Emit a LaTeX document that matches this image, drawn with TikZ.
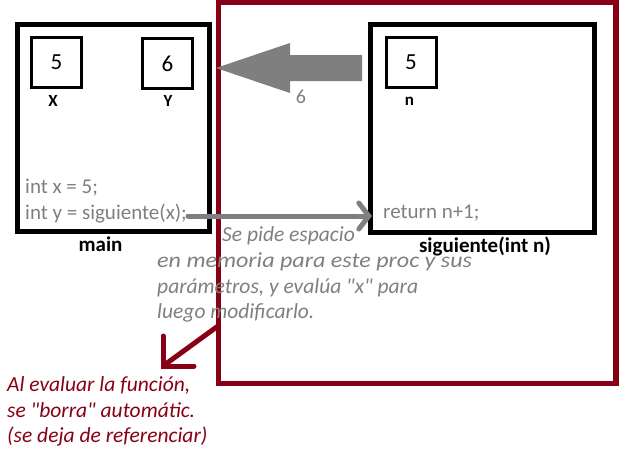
\documentclass[tikz,border=0pt]{standalone}
\usepackage{fontspec}
\setmainfont{Carlito}[Ligatures=TeXOff]
\usetikzlibrary{arrows.meta}
\definecolor{dred}{RGB}{136,0,21}
\definecolor{pgray}{RGB}{127,127,127}
\begin{document}
\begin{tikzpicture}[x=1pt,y=-1pt,
  frame/.style={draw=black,line width=5pt,inner sep=0pt},
  cell/.style={draw=black,line width=3pt,inner sep=0pt,minimum width=50pt,minimum height=50pt,font=\fontsize{23}{26}\selectfont},
  lbl/.style={font=\bfseries\fontsize{17}{20}\selectfont,anchor=base,inner sep=0pt},
  code/.style={font=\fontsize{21}{26}\selectfont,text=pgray,anchor=base west,inner sep=0pt},
  title/.style={font=\bfseries\fontsize{21}{24}\selectfont,anchor=base,inner sep=0pt},
  note/.style={font=\itshape\fontsize{21.5}{26}\selectfont,anchor=base west,inner sep=0pt},
]
\useasboundingbox (0,0) rectangle (627,472);
% main frame
\node[frame,minimum width=192.5pt,minimum height=207pt] (main) at (113.25,127.5) {};
\node[cell] (bx) at (56.5,62.5) {5};
\node[cell] (by) at (167.5,63.5) {6};
\node[lbl] (lx) at (53,106) {X};
\node[lbl] (ly) at (168,106) {Y};
\node[code] (c1) at (25,193) {int x = 5;};
\node[code] (c2) at (25,219) {int y = siguiente(x);};
\node[title] (tmain) at (100.5,251) {main};
% red frame
\node[draw=dred,line width=5.5pt,inner sep=0pt,minimum width=397.5pt,minimum height=381pt] (rf) at (417.25,193) {};
% siguiente frame
\node[frame,minimum width=224pt,minimum height=207.5pt] (sig) at (482.5,128.25) {};
\node[cell] (bn) at (411,62.5) {5};
\node[lbl] (ln) at (409.5,105) {n};
\node[code] (r1) at (383,218) {return n+1;};
\node[title] (tsig) at (485,252) {siguiente(int n)};
% big gray arrow
\coordinate (atip) at (216,68);
\fill[pgray] (atip) -- (290,43) -- (290,55) -- (362,55) -- (362,81) -- (290,81) -- (290,93) -- cycle;
\node[font=\fontsize{20}{24}\selectfont,text=pgray,anchor=base,inner sep=0pt] (six) at (301,103) {6};
% call arrow
\coordinate (ce) at (372,216);
\draw[pgray,line width=5pt,line cap=round,-{Straight Barb[length=10pt,width=26pt,line cap=round]}] (188,216) -- (ce);
% notes
\node[note,text=pgray] (n1) at (222,241) {Se pide espacio};
\node[note,text=pgray] (n2) at (157,267) {\scalebox{1.12}[1]{en memoria para este proc y sus}};
\node[note,text=pgray] (n3) at (157,293) {parámetros, y evalúa "x" para};
\node[note,text=pgray] (n4) at (157,318) {luego modificarlo.};
% red arrow
\coordinate (rs) at (218,326);
\coordinate (rt) at (163,366);
\draw[dred,line width=5pt] (rs) -- (rt);
\draw[dred,line width=5pt,line cap=round,line join=miter] (163,336) -- (rt) -- (194,366);
\node[note,text=dred] (m1) at (7,391) {Al evaluar la función,};
\node[note,text=dred] (m2) at (7,417) {se "borra" automátic.};
\node[note,text=dred] (m3) at (7,442) {(se deja de referenciar)};
\end{tikzpicture}
\end{document}
